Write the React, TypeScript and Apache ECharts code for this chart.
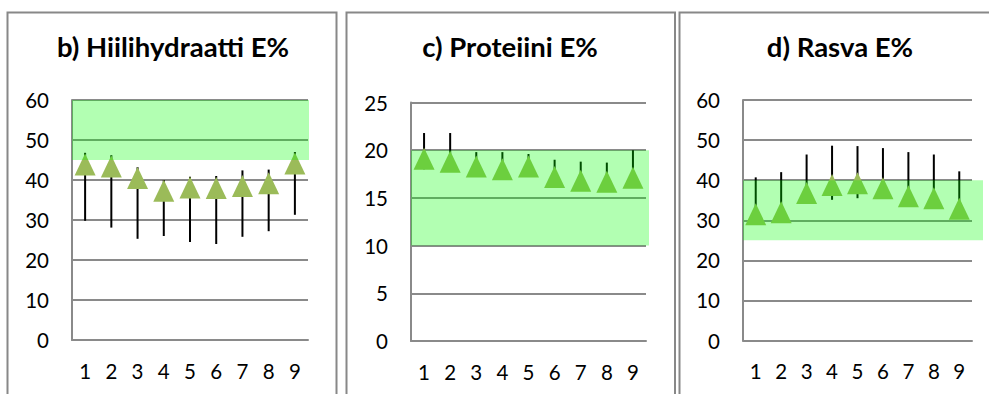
import React, { useEffect, useRef } from "react";
import * as echarts from "echarts";

const categories = ["1", "2", "3", "4", "5", "6", "7", "8", "9"];

const carbTitle = "b) Hiilihydraatti E%";
const carbMean = [43.9, 43.4, 40.5, 37.3, 38.1, 38.0, 38.5, 39.2, 44.1];
const carbLow = [29.8, 28.1, 25.3, 26.0, 24.5, 24.0, 25.8, 27.2, 31.3];
const carbHigh = [46.8, 46.2, 43.2, 40.0, 40.8, 41.0, 42.4, 42.6, 47.0];
const carbRange = [45, 60];
const carbTicks = [0, 60, 10];

const protTitle = "c) Proteiini E%";
const protMean = [19.1, 18.8, 18.3, 18.0, 18.3, 17.2, 16.8, 16.7, 17.1];
const protLow = [18.0, 17.8, 17.3, 17.0, 17.3, 16.3, 15.9, 15.8, 16.2];
const protHigh = [21.8, 21.8, 19.8, 19.8, 19.6, 19.0, 18.8, 18.7, 20.0];
const protRange = [10, 20];
const protTicks = [0, 25, 5];

const fatTitle = "d) Rasva E%";
const fatMean = [31.5, 32.0, 36.8, 38.8, 39.2, 38.0, 36.0, 35.5, 32.9];
const fatLow = [29.5, 30.0, 34.8, 35.1, 35.5, 36.0, 34.0, 33.5, 31.0];
const fatHigh = [40.7, 42.0, 46.4, 48.6, 48.5, 48.0, 47.0, 46.4, 42.2];
const fatRange = [25, 40];
const fatTicks = [0, 60, 10];

const FONT = "Lato, 'Open Sans', sans-serif";
const GRID_COLOR = "#8a8a8a";

const panels = [
  { title: carbTitle, mean: carbMean, low: carbLow, high: carbHigh, range: carbRange, ticks: carbTicks,
    grid: { left: 72, top: 100, width: 236, height: 240 }, titleX: 168, bandExt: 1 },
  { title: protTitle, mean: protMean, low: protLow, high: protHigh, range: protRange, ticks: protTicks,
    grid: { left: 411, top: 102.5, width: 235, height: 238.5 }, titleX: 505, bandExt: 3 },
  { title: fatTitle, mean: fatMean, low: fatLow, high: fatHigh, range: fatRange, ticks: fatTicks,
    grid: { left: 743, top: 100, width: 229, height: 240.5 }, titleX: 835, bandExt: 11 },
];

export default function App() {
  const ref = useRef<HTMLDivElement>(null);
  useEffect(() => {
    document.body.style.margin = "0";
    const chart = echarts.init(ref.current!, null, { renderer: "svg" });
    const grids: any[] = [];
    const xAxes: any[] = [];
    const yAxes: any[] = [];
    const series: any[] = [];
    const titles: any[] = [];
    panels.forEach((p, i) => {
      grids.push({ ...p.grid });
      titles.push({
        text: p.title,
        left: p.titleX,
        top: 27,
        textAlign: "center",
        textStyle: { fontFamily: FONT, fontSize: 27.5, fontWeight: "bold", color: "#000" },
      });
      xAxes.push({
        type: "category",
        gridIndex: i,
        data: categories,
        boundaryGap: true,
        axisLine: { lineStyle: { color: GRID_COLOR, width: 2 } },
        axisTick: { show: false },
        axisLabel: { fontFamily: FONT, fontSize: 20.5, color: "#000", margin: 20 },
      });
      yAxes.push({
        type: "value",
        gridIndex: i,
        min: p.ticks[0],
        max: p.ticks[1],
        interval: p.ticks[2],
        axisLine: { show: true, lineStyle: { color: GRID_COLOR, width: 2 } },
        axisTick: { show: false },
        splitLine: { lineStyle: { color: GRID_COLOR, width: 2 } },
        axisLabel: { fontFamily: FONT, fontSize: 20.5, color: "#000", margin: 23 },
      });
      series.push({
        type: "custom",
        xAxisIndex: i,
        yAxisIndex: i,
        z: 2,
        encode: { x: 0, y: [1, 2] },
        data: categories.map((_, k) => [k, p.low[k], p.high[k]]),
        renderItem: (params: any, api: any) => {
          const a = api.coord([api.value(0), api.value(1)]);
          const b = api.coord([api.value(0), api.value(2)]);
          return {
            type: "line",
            shape: { x1: a[0], y1: a[1], x2: b[0], y2: b[1] },
            style: { stroke: "#000", lineWidth: 2 },
          };
        },
      });
      series.push({
        type: "scatter",
        xAxisIndex: i,
        yAxisIndex: i,
        z: 3,
        symbol: "triangle",
        symbolSize: [21, 22],
        itemStyle: { color: "#9bbb59", opacity: 1 },
        data: p.mean,
      });
      const ext = p.bandExt;
      series.push({
        type: "custom",
        xAxisIndex: i,
        yAxisIndex: i,
        z: 5,
        silent: true,
        encode: { x: 0, y: [1, 2] },
        data: [[0, p.range[0], p.range[1]]],
        renderItem: (params: any, api: any) => {
          const cs = params.coordSys;
          const y0 = api.coord([0, api.value(1)])[1];
          const y1 = api.coord([0, api.value(2)])[1];
          return {
            type: "rect",
            shape: { x: cs.x, y: y1, width: cs.width + ext, height: y0 - y1 },
            style: { fill: "rgba(0,255,0,0.3)" },
          };
        },
      });
    });
    chart.setOption({
      animation: false,
      backgroundColor: "#fff",
      title: titles,
      grid: grids,
      xAxis: xAxes,
      yAxis: yAxes,
      series,
      graphic: [
        { type: "rect", shape: { x: 7.5, y: 12.5, width: 329, height: 400 }, style: { fill: "none", stroke: "#888", lineWidth: 2 }, z: 10 },
        { type: "rect", shape: { x: 346.5, y: 12.5, width: 328.5, height: 400 }, style: { fill: "none", stroke: "#888", lineWidth: 2 }, z: 10 },
        { type: "rect", shape: { x: 679.5, y: 12.5, width: 330, height: 400 }, style: { fill: "none", stroke: "#888", lineWidth: 2 }, z: 10 },
      ],
    });
    return () => chart.dispose();
  }, []);
  return <div ref={ref} style={{ position: "fixed", left: 0, top: 0, width: 989, height: 394 }} />;
}
